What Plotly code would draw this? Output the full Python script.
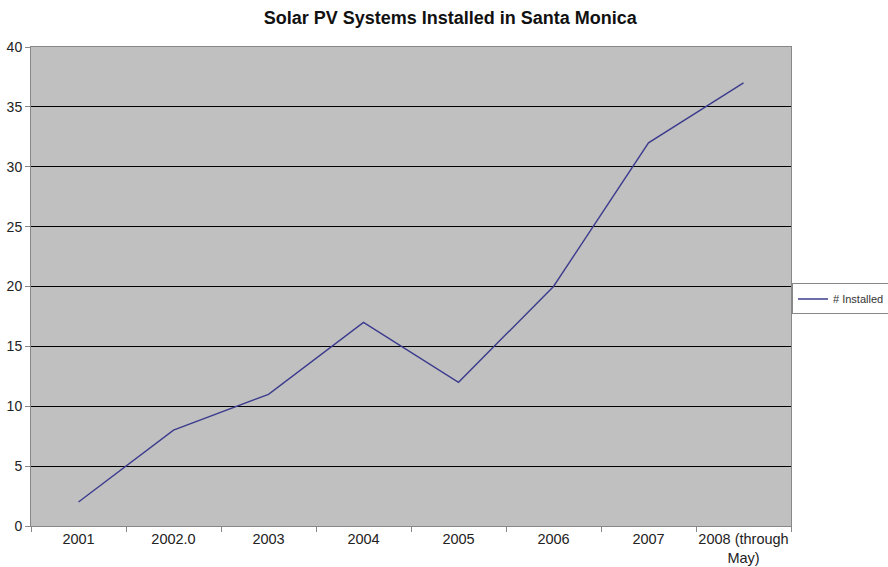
import plotly.graph_objects as go

# Yearly counts of solar PV systems installed
years = ["2001", "2002.0", "2003", "2004", "2005", "2006", "2007", "2008 (through<br>May)"]
installed = [2, 8, 11, 17, 12, 20, 32, 37]

W, H = 888, 567
L, R, T, B = 31, 97, 47, 41
plot_w = W - L - R

fig = go.Figure()
fig.add_trace(go.Scatter(
    x=years, y=installed, mode="lines", name="# Installed",
    line=dict(color="#3c3c8e", width=1.4),
))

fig.update_layout(
    width=W, height=H,
    margin=dict(l=L, r=0, t=T, b=B, autoexpand=False),
    paper_bgcolor="white",
    plot_bgcolor="#c0c0c0",
    font=dict(family="Liberation Sans, Arial, sans-serif", color="#222222", size=14),
    title=dict(text="<b>Solar PV Systems Installed in Santa Monica</b>",
               x=0.507, xanchor="center", y=0.968, yanchor="middle",
               font=dict(size=18, color="#111111")),
    showlegend=True,
    legend=dict(x=(plot_w + 1) / (W - L), xanchor="left", y=0.474, yanchor="middle",
                bordercolor="#888888", borderwidth=1, bgcolor="white",
                font=dict(size=11, color="#333333"), itemwidth=30,
                tracegroupgap=0),
    xaxis=dict(type="category", tickson="boundaries", ticks="outside", ticklen=5,
               tickcolor="#888888", showline=True, linecolor="#888888", mirror=True,
               showgrid=False, range=[-0.5, 7.5], automargin=False, tickangle=0,
               tickfont=dict(size=14.5), ticklabelstandoff=0,
               domain=[0, plot_w / (W - L)]),
    yaxis=dict(range=[0, 40], dtick=5, ticks="outside", ticklen=5,
               tickcolor="#888888", showline=True, linecolor="#888888", mirror=True,
               gridcolor="#000000", gridwidth=1, zeroline=False, automargin=False),
)

fig.write_html("out.html")
